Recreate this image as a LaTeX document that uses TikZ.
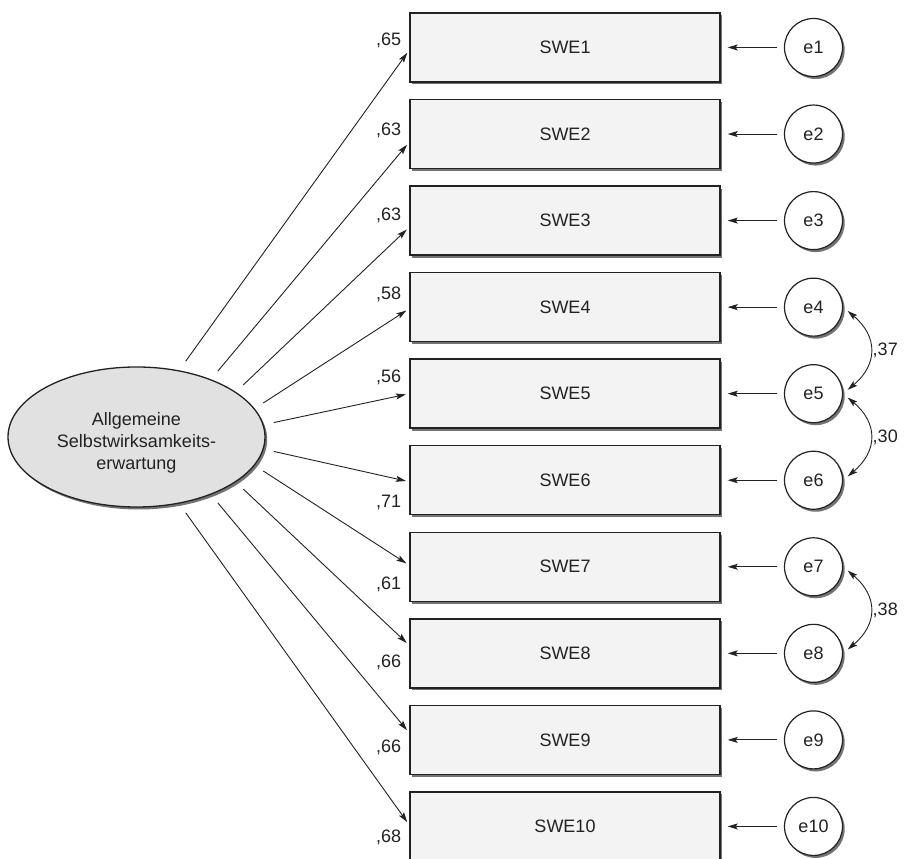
\documentclass[tikz,border=0pt]{standalone}
\usepackage{fontspec}
\setmainfont{Liberation Sans}
\usetikzlibrary{shadows,arrows.meta,shapes.geometric}
\definecolor{ink}{HTML}{222222}
\definecolor{boxfill}{HTML}{F3F3F3}
\definecolor{latentfill}{HTML}{E1E1E1}
\begin{document}
\begin{tikzpicture}[x=1pt,y=1pt,
  font=\fontsize{18}{22}\selectfont, text=ink,
  shade/.style={drop shadow={shadow xshift=2.2pt,shadow yshift=-2.5pt,fill=black,opacity=0.55}},
  item/.style={draw=ink, line width=1.4pt, fill=boxfill, minimum width=310pt,
    minimum height=69pt, inner sep=0pt, shade},
  err/.style={circle, draw=ink, line width=1.2pt, fill=white, minimum size=58pt,
    inner sep=0pt, shade},
  latent/.style={ellipse, draw=ink, line width=1.3pt, fill=latentfill,
    minimum width=257pt, minimum height=140pt, inner sep=0pt, outer sep=11pt, shade},
  link/.style={-{Stealth[length=10pt,width=6pt,inset=2pt]}, line width=0.9pt, draw=ink},
  cov/.style={{Stealth[length=10pt,width=6pt,inset=2pt]}-{Stealth[length=10pt,width=6pt,inset=2pt]},
    line width=0.9pt, draw=ink, shorten <=6pt, shorten >=6pt},
  coef/.style={inner sep=1pt, anchor=east}
]
\fill[white] (0,0) rectangle (905,859);
\useasboundingbox (0,0) rectangle (905,859);

% latent factor, its name set a little below the centre
\node[latent, label={[align=center, yshift=-6pt]center:Allgemeine\\Selbstwirksamkeits-\\erwartung}] (lv) at (136.5,422) {};

% indicators, error terms, loadings
\foreach \i/\ang/\tipdy/\labdy/\val in {
  1/57.5/-2.5pt/7.5pt/65, 2/39/-8pt/4pt/63, 3/26/-6.5pt/5.6pt/63,
  4/15.5/-1.5pt/13pt/58, 5/6/0pt/16.7pt/56, 6/-6/-1.5pt/-22.7pt/71,
  7/-15.5/1.5pt/-17.2pt/61, 8/-26/8pt/-8.6pt/66, 9/-39/7pt/-7.1pt/66,
  10/-57.5/1.5pt/-10.5pt/68}
{
  \node[item] (b\i) at (565,{811.5-86.55*(\i-1)}) {SWE\i};
  \node[err] (e\i) at (813.5,{811.5-86.55*(\i-1)}) {e\i};
  \draw[link, shorten <=6.5pt, shorten >=7pt] (e\i) -- (b\i);
  \draw[link, shorten >=3.5pt] (lv.\ang) -- ([yshift=\tipdy]b\i.west);
  \node[coef] at ([xshift=-7pt,yshift=\labdy]b\i.west) {,\val};
}

% error covariances
\draw[cov] (e4.east) to[out=-40,in=40,looseness=1.35] node[right,inner sep=3pt] {,37} (e5.east);
\draw[cov] (e5.east) to[out=-40,in=40,looseness=1.35] node[right,inner sep=3pt] {,30} (e6.east);
\draw[cov] (e7.east) to[out=-40,in=40,looseness=1.35] node[right,inner sep=3pt] {,38} (e8.east);
\end{tikzpicture}
\end{document}
